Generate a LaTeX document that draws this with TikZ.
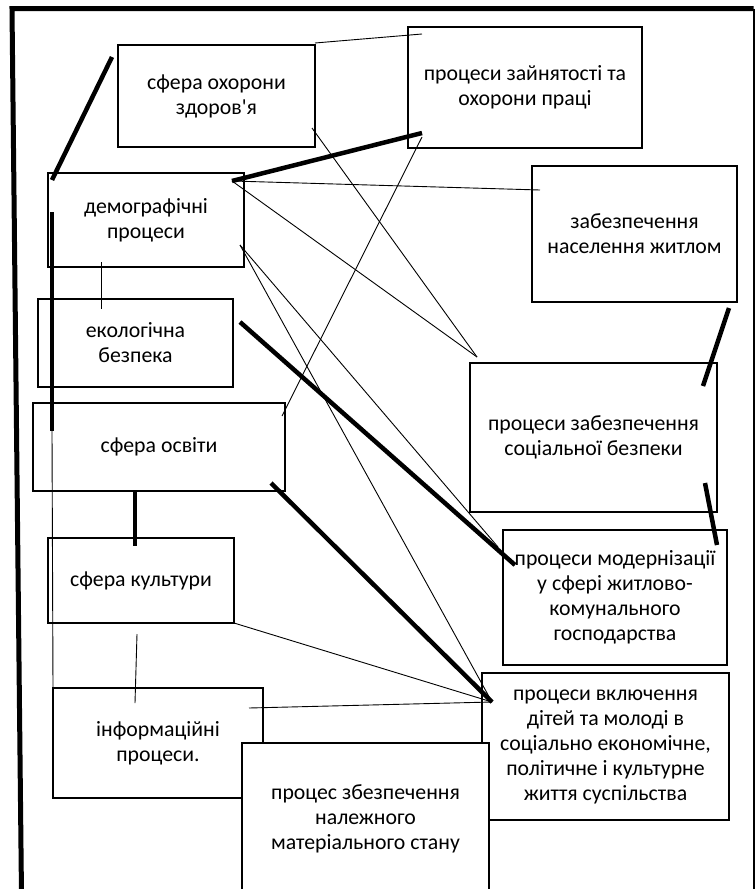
\documentclass[tikz,border=0pt]{standalone}
\usepackage{fontspec}
\newfontfamily\carlito{Carlito}
\tikzset{blok/.style={draw,fill=white,line width=1.3pt,align=center,inner sep=2pt},
	tovsta/.style={line width=4.5pt},
	tonka/.style={line width=.9pt}}
\begin{document}
\begin{tikzpicture}[x=1pt,y=-1pt,font=\carlito\fontsize{21.8}{25}\selectfont]
			\useasboundingbox(0,0)rectangle(755,889);
			% rama
			\draw[line width=5pt](21.5,895)--(12,8.5)--(753.5,8.5);
			\draw[line width=2pt](753.5,8.5)--(753.5,895);
			% bloky
			\node[blok,minimum width=197pt,minimum height=102pt](zdorovya)at(216.5,96){сфера охорони\\здоров'я};
			\node[blok,minimum width=234pt,minimum height=121pt](zaynyatist)at(525,87.5){процеси зайнятості та\\охорони праці};
			\node[blok,minimum width=196pt,minimum height=94pt](demogr)at(146,220){демографічні\\процеси};
			\node[blok,minimum width=205pt,minimum height=136pt](zhytlo)at(634.5,234){забезпечення\\населення житлом};
			\node[blok,minimum width=195pt,minimum height=88pt](ekol)at(135.5,343){екологічна\\безпека};
			\node[blok,minimum width=252pt,minimum height=88pt](osvita)at(159,447){сфера освіти};
			\node[blok,minimum width=247pt,minimum height=149pt](sotsbezp)at(593.5,437.5){процеси забезпечення\\соціальної безпеки};
			\node[blok,minimum width=186pt,minimum height=85pt](kultura)at(141,580.5){сфера культури};
			\node[blok,minimum width=224pt,minimum height=135pt](moderniz)at(615,597.5){процеси модернізації\\у сфері житлово-\\комунального\\господарства};
			\node[blok,minimum width=247pt,minimum height=147pt](vkluch)at(605.5,746.5){процеси включення\\дітей та молоді в\\соціально економічне,\\політичне і культурне\\життя суспільства};
			\node[blok,minimum width=210pt,minimum height=110pt](inform)at(158,743){інформаційні\\процеси.};
			\node[blok,minimum width=247pt,minimum height=152pt](matstan)at(365.5,819){процес збезпечення\\належного\\матеріального стану};
			% kintsi zvyazkiv
			\coordinate(Z1)at(112,57);
			\coordinate(Z2)at(315,43);
			\coordinate(Z3)at(312,128);
			\coordinate(P1)at(422,34);
			\coordinate(P2)at(422,133);
			\coordinate(P3)at(422,137);
			\coordinate(D1)at(52,180);
			\coordinate(D2)at(232,181);
			\coordinate(D3)at(240,245);
			\coordinate(D4)at(101,262);
			\coordinate(D5)at(52,212);
			\coordinate(H1)at(540,190);
			\coordinate(H2)at(729,308);
			\coordinate(E1)at(101,309);
			\coordinate(E2)at(240,322);
			\coordinate(O1)at(52,431);
			\coordinate(O2)at(282,416);
			\coordinate(O3)at(271,483);
			\coordinate(O4)at(135,492);
			\coordinate(S1)at(477,357);
			\coordinate(S2)at(703,386);
			\coordinate(S3)at(705,483);
			\coordinate(K1)at(135,546);
			\coordinate(K2)at(234,623);
			\coordinate(K3)at(137,634);
			\coordinate(M1)at(498,547);
			\coordinate(M2)at(515,565);
			\coordinate(M3)at(717,545);
			\coordinate(V1)at(492,702);
			\coordinate(I1)at(53,688);
			\coordinate(I2)at(135,703);
			\coordinate(I3)at(249,708);
			% tovsti zvyazky
			\foreach\a/\b in {Z1/D1,D2/P2,D5/O1,E2/M2,O3/V1,O4/K1,H2/S2,S3/M3}{%
			\draw[tovsta](\a)--(\b);}
			% tonki zvyazky
			\foreach\a/\b in {Z2/P1,D2/H1,Z3/S1,D2/S1,P3/O2,D3/M1,D3/V1,D4/E1,K2/V1,I3/V1,K3/I2,O1/I1}{%
			\draw[tonka](\a)--(\b);}
		\end{tikzpicture}
\end{document}
